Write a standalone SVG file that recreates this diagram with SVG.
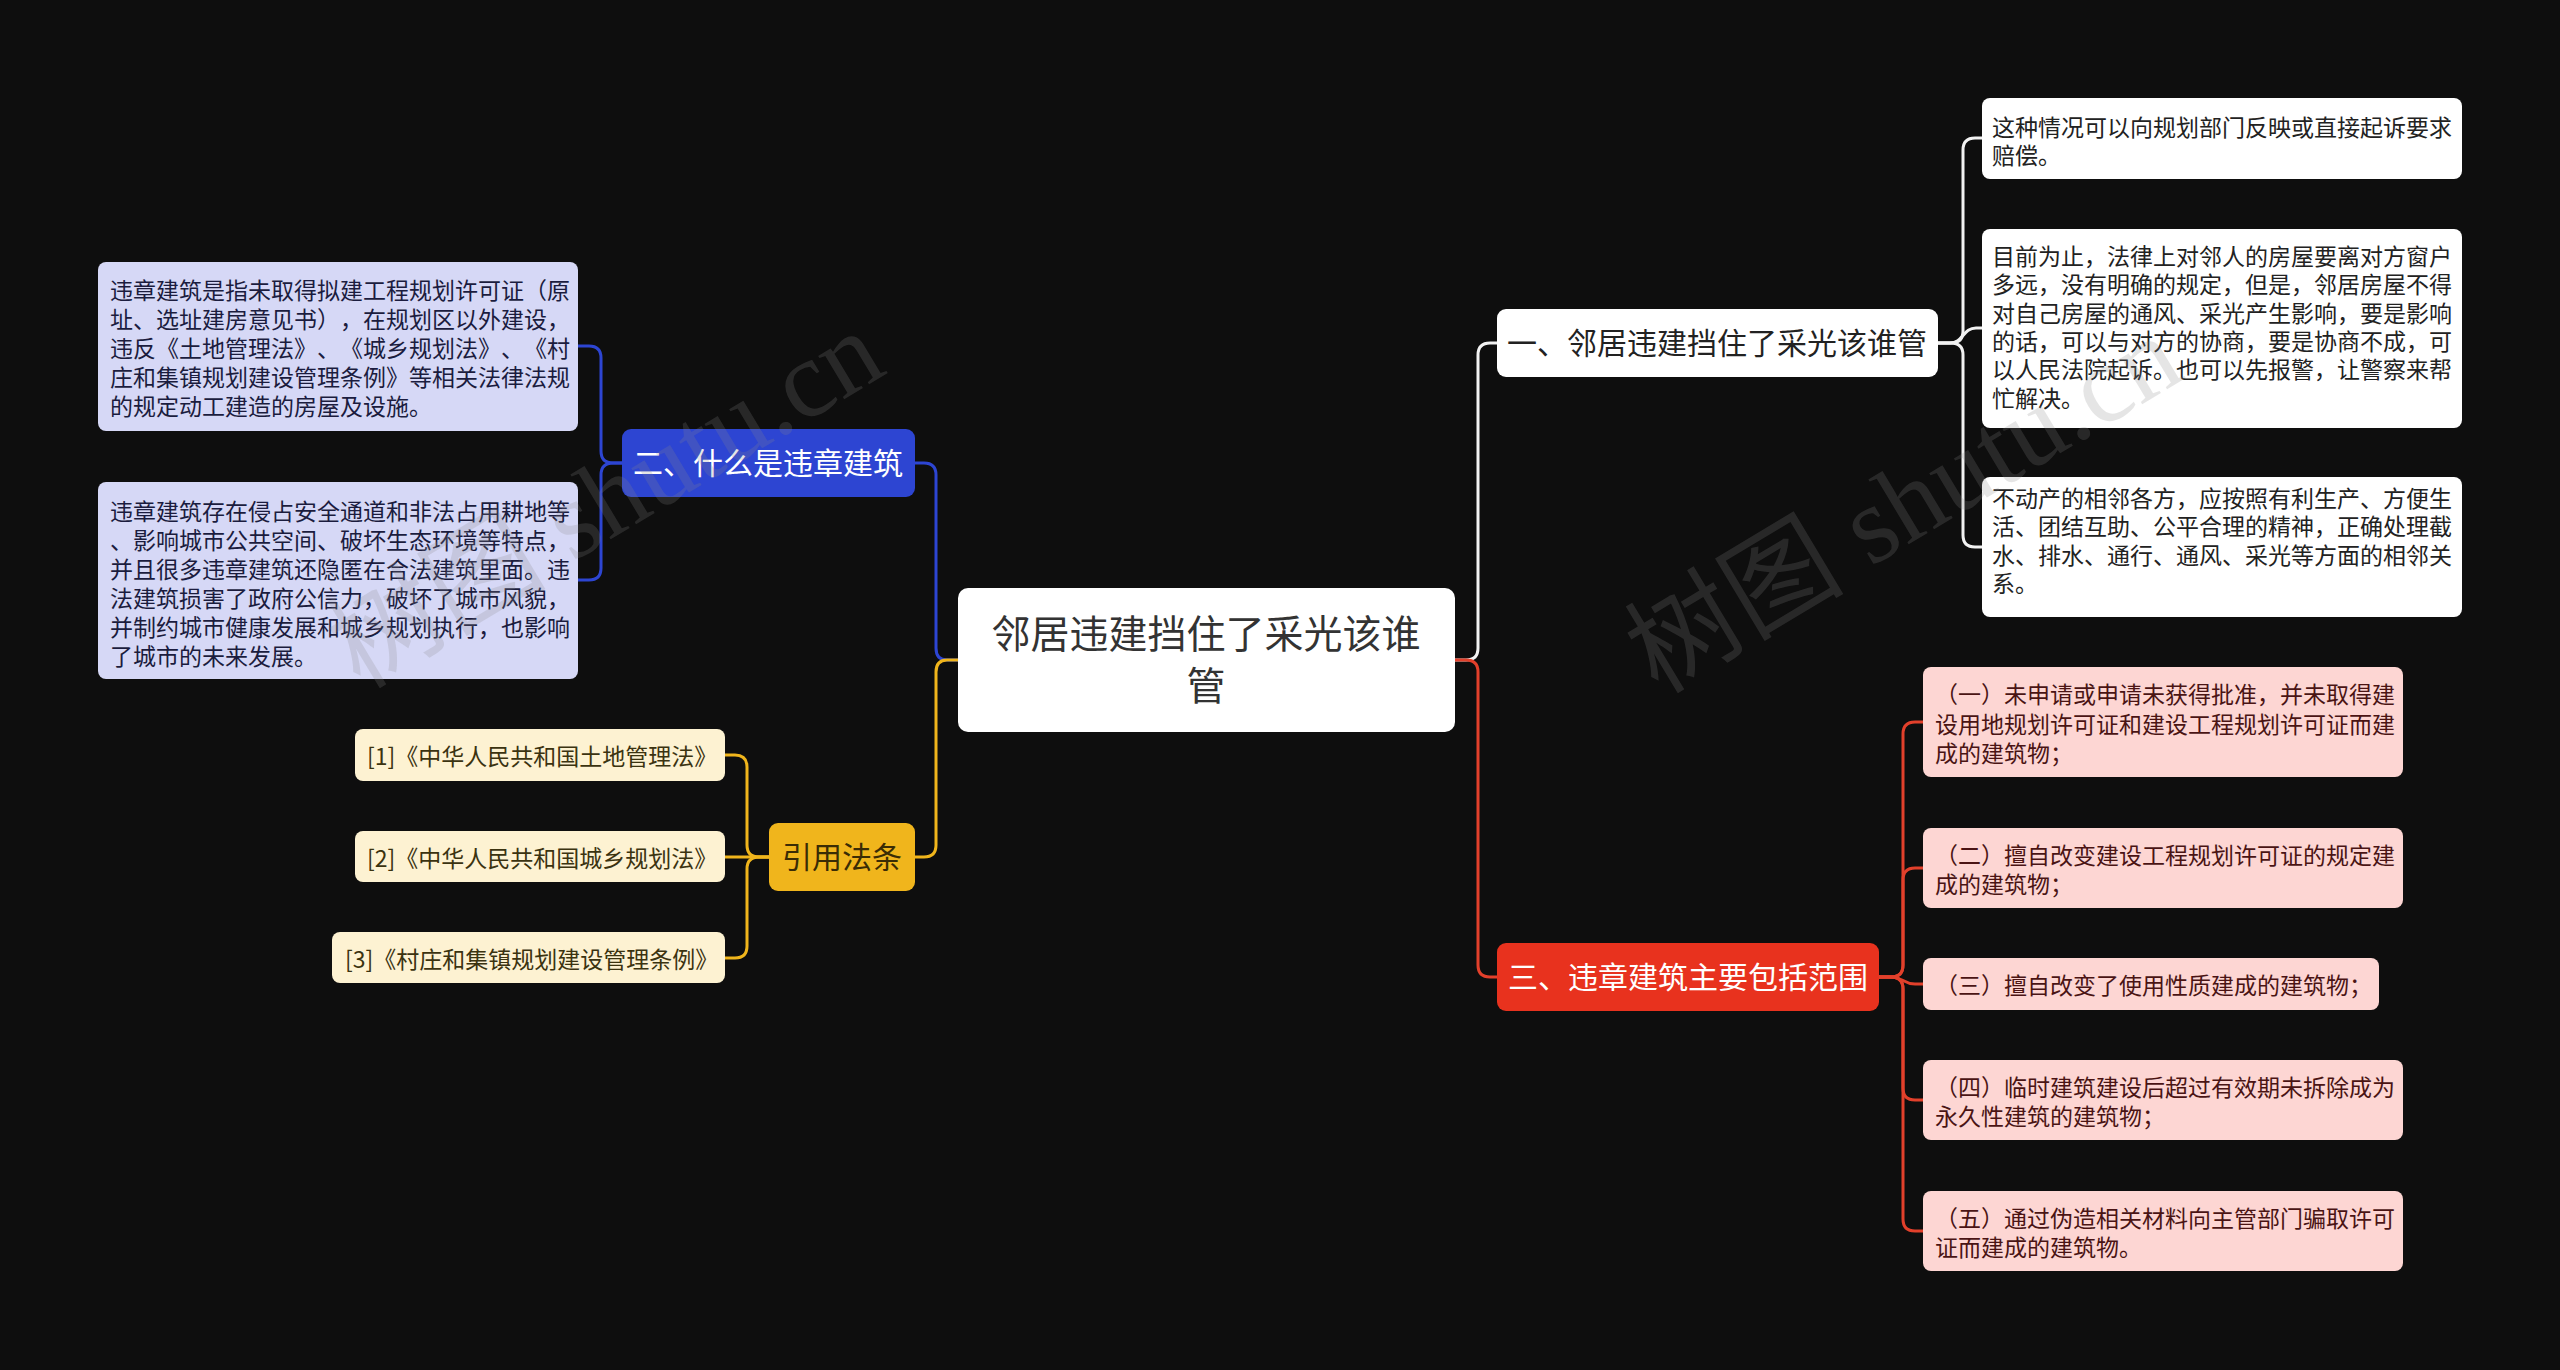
<svg xmlns="http://www.w3.org/2000/svg" width="2560" height="1370" viewBox="0 0 2560 1370">
<style>
text{font-family:"Noto Sans CJK SC","Noto Sans",sans-serif;text-spacing-trim:space-all;}
.ln{fill:none;stroke-width:3;stroke-linecap:round;stroke-linejoin:round;}
.w{stroke:#f2f2f2;}
.b{stroke:#2d45d2;}
.y{stroke:#f0b51c;}
.r{stroke:#e2402b;}
.t23{font-size:23px;}
.wc rect{fill:#ffffff;}
.wc text{fill:#222222;}
.bc rect{fill:#d6d8f6;}
.bc text{fill:#1b1c3e;}
.yc rect{fill:#fdf2d2;}
.yc text{fill:#3b3310;}
.rc rect{fill:#fdd6d3;}
.rc text{fill:#4a1414;}
.wm{font-family:"Liberation Serif","Noto Sans CJK SC",serif;font-size:110px;fill:#8a8a8a;fill-opacity:0.22;}
</style>
<rect x="0" y="0" width="2560" height="1370" fill="#0e0e0e"/>

<g id="connectors">
  <path class="ln w" d="M1455,660 H1466 Q1478,660 1478,648 V355 Q1478,343 1490,343 H1497"/>
  <path class="ln r" d="M1455,660 H1466 Q1478,660 1478,672 V965 Q1478,977 1490,977 H1497"/>
  <path class="ln b" d="M958,660 H947 Q936,660 936,648 V475 Q936,463 924,463 H915"/>
  <path class="ln y" d="M958,660 H947 Q936,660 936,672 V845 Q936,857 924,857 H915"/>
  <path class="ln w" d="M1938,343 H1951 Q1963,343 1963,331 V150 Q1963,138 1975,138 H1982"/>
  <path class="ln w" d="M1938,343 H1950 C1963,343 1963,328 1976,328 H1982"/>
  <path class="ln w" d="M1938,343 H1951 Q1963,343 1963,355 V535 Q1963,547 1975,547 H1982"/>
  <path class="ln b" d="M622,463 H613 Q601,463 601,451 V358 Q601,346 589,346 H578"/>
  <path class="ln b" d="M622,463 H613 Q601,463 601,475 V568 Q601,580 589,580 H578"/>
  <path class="ln y" d="M769,857 H759 Q747,857 747,845 V767 Q747,755 735,755 H725"/>
  <path class="ln y" d="M769,857 H725"/>
  <path class="ln y" d="M769,857 H759 Q747,857 747,869 V946 Q747,958 735,958 H725"/>
  <path class="ln r" d="M1879,977 H1891 Q1903,977 1903,965 V734 Q1903,722 1915,722 H1923"/>
  <path class="ln r" d="M1879,977 H1891 Q1903,977 1903,965 V880 Q1903,868 1915,868 H1923"/>
  <path class="ln r" d="M1879,977 H1891 C1903,977 1903,984 1915,984 H1923"/>
  <path class="ln r" d="M1879,977 H1891 Q1903,977 1903,989 V1088 Q1903,1100 1915,1100 H1923"/>
  <path class="ln r" d="M1879,977 H1891 Q1903,977 1903,989 V1219 Q1903,1231 1915,1231 H1923"/>
</g>

<g id="root">
  <rect x="958" y="588" width="497" height="144" rx="10" fill="#ffffff"/>
  <text x="1206" y="648" font-size="39" fill="#333333" text-anchor="middle">邻居违建挡住了采光该谁</text>
  <text x="1206" y="700" font-size="39" fill="#333333" text-anchor="middle">管</text>
</g>

<g id="n1">
  <rect x="1497" y="309" width="441" height="68" rx="9" fill="#ffffff"/>
  <text x="1717" y="354" font-size="30" fill="#222222" text-anchor="middle">一、邻居违建挡住了采光该谁管</text>
</g>

<g id="n1c1" class="wc t23">
  <rect x="1982" y="98" width="480" height="81" rx="8"/>
  <text x="1992" y="136">这种情况可以向规划部门反映或直接起诉要求</text>
  <text x="1992" y="164">赔偿。</text>
</g>
<g id="n1c2" class="wc t23">
  <rect x="1982" y="229" width="480" height="199" rx="8"/>
  <text x="1992" y="265">目前为止，法律上对邻人的房屋要离对方窗户</text>
  <text x="1992" y="293">多远，没有明确的规定，但是，邻居房屋不得</text>
  <text x="1992" y="322">对自己房屋的通风、采光产生影响，要是影响</text>
  <text x="1992" y="350">的话，可以与对方的协商，要是协商不成，可</text>
  <text x="1992" y="378">以人民法院起诉。也可以先报警，让警察来帮</text>
  <text x="1992" y="407">忙解决。</text>
</g>
<g id="n1c3" class="wc t23">
  <rect x="1982" y="477" width="480" height="140" rx="8"/>
  <text x="1992" y="507">不动产的相邻各方，应按照有利生产、方便生</text>
  <text x="1992" y="535">活、团结互助、公平合理的精神，正确处理截</text>
  <text x="1992" y="564">水、排水、通行、通风、采光等方面的相邻关</text>
  <text x="1992" y="592">系。</text>
</g>

<g id="n2">
  <rect x="622" y="429" width="293" height="68" rx="9" fill="#2d45d2"/>
  <text x="768" y="474" font-size="30" fill="#ffffff" text-anchor="middle">二、什么是违章建筑</text>
</g>
<g id="n2c1" class="bc t23">
  <rect x="98" y="262" width="480" height="169" rx="8"/>
  <text x="110" y="299">违章建筑是指未取得拟建工程规划许可证（原</text>
  <text x="110" y="328">址、选址建房意见书），在规划区以外建设，</text>
  <text x="110" y="357">违反《土地管理法》、《城乡规划法》、《村</text>
  <text x="110" y="386">庄和集镇规划建设管理条例》等相关法律法规</text>
  <text x="110" y="415">的规定动工建造的房屋及设施。</text>
</g>
<g id="n2c2" class="bc t23">
  <rect x="98" y="482" width="480" height="197" rx="8"/>
  <text x="110" y="520">违章建筑存在侵占安全通道和非法占用耕地等</text>
  <text x="110" y="549">、影响城市公共空间、破坏生态环境等特点，</text>
  <text x="110" y="578">并且很多违章建筑还隐匿在合法建筑里面。违</text>
  <text x="110" y="607">法建筑损害了政府公信力，破坏了城市风貌，</text>
  <text x="110" y="636">并制约城市健康发展和城乡规划执行，也影响</text>
  <text x="110" y="665">了城市的未来发展。</text>
</g>

<g id="n3">
  <rect x="769" y="823" width="146" height="68" rx="9" fill="#f0b51c"/>
  <text x="842" y="868" font-size="30" fill="#3a2c05" text-anchor="middle">引用法条</text>
</g>
<g id="n3c1" class="yc t23">
  <rect x="355" y="729" width="370" height="52" rx="8"/>
  <text x="367" y="765">[1]《中华人民共和国土地管理法》</text>
</g>
<g id="n3c2" class="yc t23">
  <rect x="355" y="831" width="370" height="51" rx="8"/>
  <text x="367" y="867">[2]《中华人民共和国城乡规划法》</text>
</g>
<g id="n3c3" class="yc t23">
  <rect x="332" y="932" width="393" height="51" rx="8"/>
  <text x="345" y="968">[3]《村庄和集镇规划建设管理条例》</text>
</g>

<g id="n4">
  <rect x="1497" y="943" width="382" height="68" rx="9" fill="#e8321e"/>
  <text x="1688" y="988" font-size="30" fill="#ffffff" text-anchor="middle">三、违章建筑主要包括范围</text>
</g>
<g id="n4c1" class="rc t23">
  <rect x="1923" y="667" width="480" height="110" rx="8"/>
  <text x="1935" y="703">（一）未申请或申请未获得批准，并未取得建</text>
  <text x="1935" y="733">设用地规划许可证和建设工程规划许可证而建</text>
  <text x="1935" y="762">成的建筑物；</text>
</g>
<g id="n4c2" class="rc t23">
  <rect x="1923" y="828" width="480" height="80" rx="8"/>
  <text x="1935" y="864">（二）擅自改变建设工程规划许可证的规定建</text>
  <text x="1935" y="893">成的建筑物；</text>
</g>
<g id="n4c3" class="rc t23">
  <rect x="1923" y="958" width="456" height="52" rx="8"/>
  <text x="1935" y="994">（三）擅自改变了使用性质建成的建筑物；</text>
</g>
<g id="n4c4" class="rc t23">
  <rect x="1923" y="1060" width="480" height="80" rx="8"/>
  <text x="1935" y="1096">（四）临时建筑建设后超过有效期未拆除成为</text>
  <text x="1935" y="1125">永久性建筑的建筑物；</text>
</g>
<g id="n4c5" class="rc t23">
  <rect x="1923" y="1191" width="480" height="80" rx="8"/>
  <text x="1935" y="1227">（五）通过伪造相关材料向主管部门骗取许可</text>
  <text x="1935" y="1256">证而建成的建筑物。</text>
</g>

<g id="watermarks">
  <text class="wm" transform="translate(360,690) rotate(-31)">树图 shutu.cn</text>
  <text class="wm" transform="translate(1658,695) rotate(-31)">树图 shutu.cn</text>
</g>
</svg>
